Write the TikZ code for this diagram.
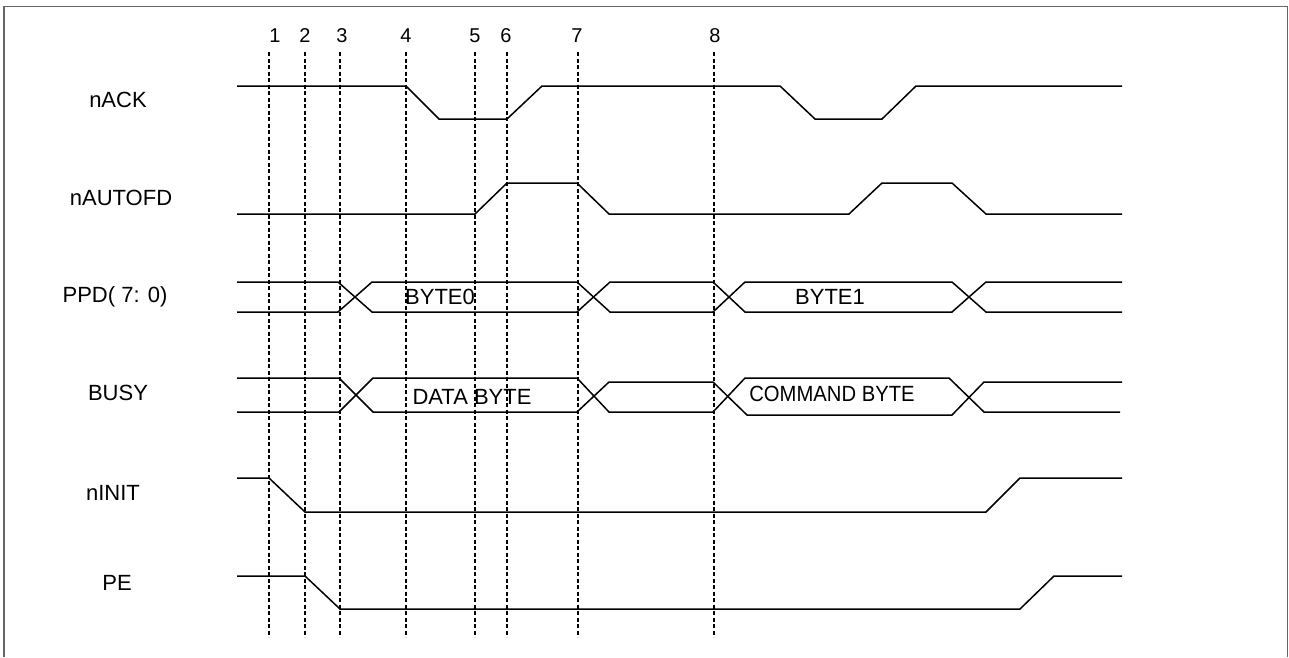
\documentclass[tikz,border=0pt]{standalone}
\usepackage{fontspec}
\setmainfont{Liberation Sans}
\begin{document}
\begin{tikzpicture}[x=1pt,y=-1pt,
  sig/.style={line width=1.5pt,line join=miter},
  guide/.style={line width=1.2pt,dash pattern=on 4pt off 2.5pt},
  frame/.style={line width=1.3pt,draw=black!60},
  lbl/.style={font=\fontsize{22}{25}\selectfont,inner sep=0pt},
  num/.style={font=\fontsize{20}{23}\selectfont,inner sep=0pt}]
\useasboundingbox (0,0) rectangle (1289,657);
% frame
\draw[frame] (4,657) -- (4,6.5) -- (1287.5,6.5) -- (1287.5,657);
% guide lines and numbers
\foreach \n/\x/\tx in {1/269/275,2/305/305,3/340/342,4/406/406,5/475/475,6/507/506,7/578/577,8/714/715}{
  \coordinate (g\n top) at (\x,52);
  \coordinate (g\n bot) at (\x,637);
  \draw[guide] (g\n top) -- (g\n bot);
  \node[num] (n\n) at (\tx,36) {\n};
}
% signal names
\node[lbl] (lack) at (118,100) {nACK};
\node[lbl] (lauto) at (121,198) {nAUTOFD};
\node[lbl] (lppd) at (115,297) {PPD( 7: 0)};
\node[lbl] (lbusy) at (118,393) {BUSY};
\node[lbl] (linit) at (113,493) {nINIT};
\node[lbl] (lpe) at (117,583) {PE};
% nACK
\draw[sig] (237,86) -- (406,86) -- (439,119) -- (507,119) -- (542,86) -- (780,86) -- (815,119) -- (882,119) -- (916,86) -- (1122,86);
% nAUTOFD
\draw[sig] (237,214) -- (475,214) -- (507,183) -- (577,183) -- (609,214) -- (849,214) -- (882,183) -- (952,183) -- (986,214) -- (1122,214);
% PPD(7:0)
\draw[sig] (237,282) -- (338,282) -- (372,312) -- (577,312) -- (610,282) -- (713,282) -- (745,312) -- (952,312) -- (986,282) -- (1122,282);
\draw[sig] (237,312) -- (338,312) -- (372,282) -- (577,282) -- (610,312) -- (713,312) -- (745,282) -- (952,282) -- (986,312) -- (1122,312);
\node[lbl] (byte0) at (440,297) {BYTE0};
\node[lbl] (byte1) at (830,297) {BYTE1};
% BUSY
\draw[sig] (237,378) -- (339,378) -- (373,412) -- (577,412) -- (609,382) -- (713,382) -- (747,415) -- (952,415) -- (984,382) -- (1122,382);
\draw[sig] (237,412) -- (339,412) -- (373,378) -- (577,378) -- (609,412) -- (713,412) -- (745,378) -- (949,378) -- (984,412) -- (1120,412);
\node[lbl] (databyte) at (472,397) {DATA BYTE};
\node[lbl] (cmdbyte) at (832,394) {\scalebox{0.92}[1]{COMMAND BYTE}};
% nINIT
\draw[sig] (237,478) -- (269,478) -- (305,512) -- (986,512) -- (1020,478) -- (1122,478);
% PE
\draw[sig] (237,576) -- (305,576) -- (340,609) -- (1020,609) -- (1054,576) -- (1122,576);
\end{tikzpicture}
\end{document}
